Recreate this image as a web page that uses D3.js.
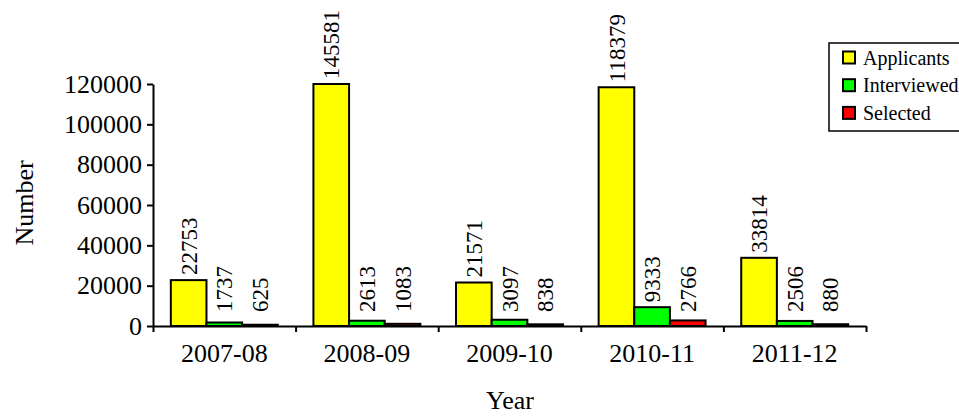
<!DOCTYPE html>
<html>
<head>
<meta charset="utf-8">
<script src="https://cdn.jsdelivr.net/npm/d3@7"></script>
<style>
  body { margin: 0; background: #fff; }
  svg { display: block; font-family: "Liberation Serif", "Times New Roman", serif; }
</style>
</head>
<body>
<div id="chart"></div>
<script>
// 数据
const years = ["2007-08", "2008-09", "2009-10", "2010-11", "2011-12"];
const seriesNames = ["Applicants", "Interviewed", "Selected"];
const applicants = [22753, 145581, 21571, 118379, 33814];
const interviewed = [1737, 2613, 3097, 9333, 2506];
const selected = [625, 1083, 838, 2766, 880];
const yTicks = [0, 20000, 40000, 60000, 80000, 100000, 120000];
const colors = ["#ffff00", "#00ff00", "#ff0000"];

const width = 959, height = 416;
const plot = { left: 153, right: 866, top: 84, bottom: 326 };

const svg = d3.select("#chart").append("svg")
  .attr("width", width)
  .attr("height", height);

// 比例尺（超出 120000 的柱子被截断）
const x0 = d3.scaleBand().domain(years).range([plot.left, plot.right]).padding(0);
const x1 = d3.scaleBand().domain(seriesNames).range([0, x0.bandwidth()])
  .paddingInner(0).paddingOuter(0.5);
const y = d3.scaleLinear().domain([0, 120000]).range([plot.bottom, plot.top]).clamp(true);

const rows = years.map((yr, i) => ({
  year: yr,
  values: [applicants[i], interviewed[i], selected[i]].map((v, j) => ({ key: seriesNames[j], value: v, color: colors[j] }))
}));

// 柱子
const groups = svg.append("g").selectAll("g")
  .data(rows)
  .join("g")
  .attr("transform", d => `translate(${x0(d.year)},0)`);

groups.selectAll("rect")
  .data(d => d.values)
  .join("rect")
  .attr("x", d => x1(d.key))
  .attr("y", d => y(d.value))
  .attr("width", x1.bandwidth())
  .attr("height", d => y(0) - y(d.value))
  .attr("fill", d => d.color)
  .attr("stroke", "#000")
  .attr("stroke-width", 2);

// 数据标签（竖排）
groups.selectAll("text.val")
  .data(d => d.values)
  .join("text")
  .attr("class", "val")
  .attr("transform", d => {
    const cx = x1(d.key) + x1.bandwidth() / 2;
    const ty = Math.min(y(d.value) - 5, 312);
    return `translate(${cx},${ty}) rotate(-90)`;
  })
  .attr("dy", "0.35em")
  .attr("font-size", 23)
  .attr("fill", "#000")
  .text(d => d.value);

// Y 轴
const yAxis = svg.append("g")
  .attr("transform", `translate(${plot.left},0)`)
  .call(d3.axisLeft(y).tickValues(yTicks).tickFormat(d3.format("d")).tickSize(6).tickSizeOuter(0).tickPadding(5))
  .attr("font-family", null)
  .attr("font-size", 26);
yAxis.select(".domain").attr("stroke", "#000").attr("stroke-width", 2);
yAxis.selectAll(".tick line").attr("stroke", "#000").attr("stroke-width", 2);
yAxis.selectAll(".tick text").attr("fill", "#000");

// X 轴：类别标签
const xAxis = svg.append("g")
  .attr("transform", `translate(0,${plot.bottom})`)
  .call(d3.axisBottom(x0).tickSize(0).tickPadding(18))
  .attr("font-family", null)
  .attr("font-size", 26);
xAxis.select(".domain").remove();
xAxis.selectAll(".tick text").attr("fill", "#000");

// X 轴：分隔刻度
const xb = d3.scaleLinear().domain([0, years.length]).range([plot.left, plot.right]);
const xTicks = svg.append("g")
  .attr("transform", `translate(0,${plot.bottom})`)
  .call(d3.axisBottom(xb).tickValues(d3.range(years.length + 1)).tickFormat("").tickSize(6).tickSizeOuter(0));
xTicks.select(".domain").attr("stroke", "#000").attr("stroke-width", 2);
xTicks.selectAll(".tick line").attr("stroke", "#000").attr("stroke-width", 2);

// 坐标轴标题
svg.append("text")
  .attr("transform", `translate(33,${(plot.top + plot.bottom) / 2 - 2}) rotate(-90)`)
  .attr("text-anchor", "middle")
  .attr("font-size", 26)
  .text("Number");

svg.append("text")
  .attr("x", 510)
  .attr("y", 409)
  .attr("text-anchor", "middle")
  .attr("font-size", 26)
  .text("Year");

// 图例
const legend = svg.append("g").attr("transform", "translate(829,43)");
legend.append("rect")
  .attr("width", 140)
  .attr("height", 88)
  .attr("fill", "#fff")
  .attr("stroke", "#000")
  .attr("stroke-width", 1.5);

const items = legend.selectAll("g.item")
  .data(seriesNames)
  .join("g")
  .attr("class", "item")
  .attr("transform", (d, i) => `translate(0,${14.5 + i * 27.7})`);

items.append("rect")
  .attr("x", 14)
  .attr("y", -6)
  .attr("width", 12)
  .attr("height", 12)
  .attr("fill", (d, i) => colors[i])
  .attr("stroke", "#000")
  .attr("stroke-width", 2);

items.append("text")
  .attr("x", 34)
  .attr("dy", "0.35em")
  .attr("font-size", 20)
  .text(d => d);
</script>
</body>
</html>
